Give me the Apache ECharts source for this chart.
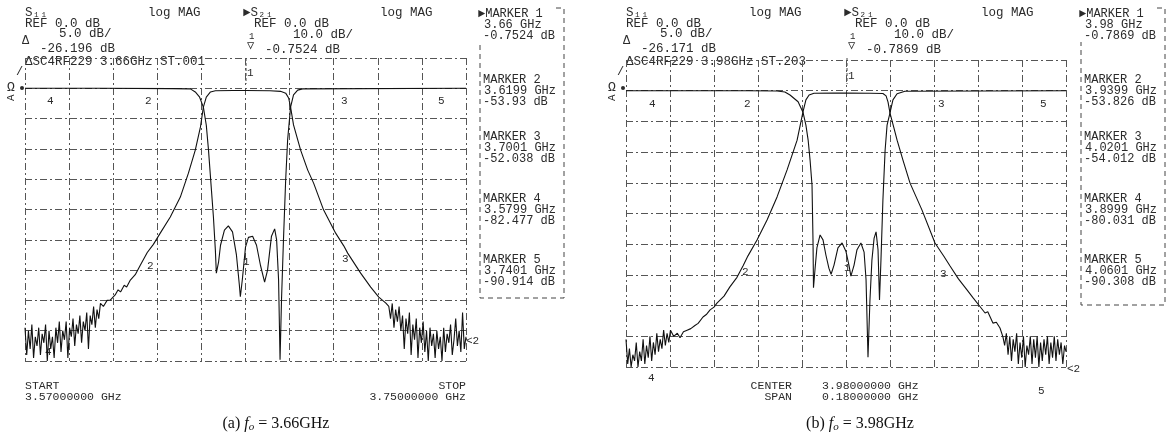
<!DOCTYPE html>
<html><head><meta charset="utf-8">
<script src="https://cdn.jsdelivr.net/npm/echarts@6/dist/echarts.min.js"></script>
<style>html,body{margin:0;padding:0;background:#fff}#c{width:1171px;height:441px}</style>
</head><body><div id="c"></div>
<script>
// ---- sweep ranges (GHz) and scales (dB) ----
const sweepA = [3.57, 3.75];
const sweepB = [3.89, 4.07];
const s21Scale = [-90, 10, 10];   // min, max, dB/div
const s11Scale = [-45, 5, 5];

// ---- traces: [GHz, dB] ----
const s21A = [
[3.5700,-79],[3.5707,-88],[3.5714,-80],[3.5721,-86],[3.5728,-78],[3.5735,-89],[3.5742,-82],[3.5749,-85],[3.5756,-79],[3.5763,-88],
[3.5770,-81],[3.5777,-84],[3.5784,-78],[3.5791,-90],[3.5798,-80],[3.5805,-86],[3.5812,-82],[3.5819,-89],[3.5826,-79],[3.5833,-84],
[3.5840,-77],[3.5847,-87],[3.5854,-80],[3.5861,-83],[3.5868,-77],[3.5875,-89],[3.5882,-79],[3.5889,-82],[3.5896,-76],[3.5903,-85],
[3.5910,-78],[3.5917,-81],[3.5924,-75],[3.5931,-84],[3.5938,-77],[3.5945,-80],[3.5952,-74],[3.5959,-86],[3.5966,-75],[3.5973,-78],
[3.5980,-72],[3.5987,-79],[3.5994,-73],[3.6001,-76],[3.6008,-71],
[3.6020,-72],[3.6035,-70],[3.6048,-69.9],[3.6068,-68.2],[3.6080,-66.5],[3.6090,-67.2],[3.6105,-65.0],[3.6115,-65.6],[3.6130,-63.3],
[3.6150,-61.5],[3.6170,-58.5],[3.6199,-54.2],[3.6224,-51.5],[3.6252,-47.8],[3.6293,-42.5],[3.6334,-35.9],[3.6367,-28.0],[3.6395,-20.4],
[3.6416,-12.8],[3.6428,-6.2],[3.6440,-2.9],[3.6457,-1.2],[3.6477,-0.8],[3.6550,-0.75],[3.6600,-0.75],[3.6700,-0.8],[3.6743,-1.0],
[3.6764,-1.6],[3.6776,-3.2],[3.6784,-6.2],[3.6796,-12.1],[3.6825,-20.4],[3.6854,-27.0],[3.6878,-31.3],[3.6919,-40.2],[3.6968,-47.8],
[3.7001,-52.0],[3.7017,-54.4],[3.7070,-61.0],[3.7111,-65.6],[3.7144,-68.9],[3.7173,-70.9],
[3.7185,-72],[3.7192,-76],[3.7199,-71],[3.7206,-79],[3.7213,-73],[3.7220,-77],[3.7227,-72],[3.7234,-80],[3.7241,-75],[3.7248,-86],
[3.7255,-76],[3.7262,-81],[3.7269,-74],[3.7276,-88],[3.7283,-78],[3.7290,-83],[3.7297,-76],[3.7304,-89],[3.7311,-79],[3.7318,-84],
[3.7325,-77],[3.7332,-87],[3.7339,-80],[3.7346,-90],[3.7353,-79],[3.7360,-85],[3.7367,-81],[3.7374,-89],[3.7381,-80],[3.7388,-86],
[3.7395,-82],[3.7402,-90],[3.7409,-79],[3.7416,-87],[3.7423,-81],[3.7430,-84],[3.7437,-78],[3.7444,-88],[3.7451,-83],[3.7458,-76],
[3.7465,-85],[3.7472,-80],[3.7479,-87],[3.7486,-74],[3.7493,-86],[3.7500,-82]
];
const s11A = [
[3.5700,0],[3.6000,0],[3.6300,-0.05],[3.6375,-0.1],[3.6395,-0.6],[3.6412,-1.4],[3.6428,-3.1],[3.6440,-6.1],[3.6449,-10.2],
[3.6461,-16.8],[3.6469,-21.2],[3.6477,-26.7],[3.6481,-30.5],[3.6490,-28.7],[3.6498,-25.9],[3.6514,-23.4],[3.6530,-22.7],
[3.6547,-23.7],[3.6563,-27.5],[3.6575,-32.5],[3.6579,-34.4],[3.6587,-31.6],[3.6600,-26.2],[3.6612,-24.6],[3.6629,-24.4],
[3.6645,-25.9],[3.6661,-29.2],[3.6678,-32.0],[3.6690,-30.0],[3.6706,-24.4],[3.6719,-23.2],[3.6727,-25.0],[3.6735,-31.6],
[3.6741,-44.8],[3.6747,-34.9],[3.6755,-25.0],[3.6764,-15.1],[3.6772,-8.5],[3.6784,-3.1],[3.6796,-1.1],[3.6813,-0.3],
[3.6833,-0.1],[3.7500,0]
];
const s21B = [
[3.8900,-81],[3.8907,-89],[3.8914,-84],[3.8921,-90],[3.8928,-86],[3.8935,-88],[3.8942,-82],[3.8949,-90],[3.8956,-85],[3.8963,-88],
[3.8970,-81],[3.8977,-89],[3.8984,-83],[3.8991,-87],[3.8998,-80],[3.9005,-88],[3.9012,-82],[3.9019,-86],[3.9026,-79],[3.9033,-85],
[3.9040,-81],[3.9047,-84],[3.9054,-78],[3.9061,-83],[3.9068,-79],[3.9075,-82],[3.9082,-78],
[3.9095,-80],[3.9110,-79],[3.9121,-80.5],[3.9135,-78.5],[3.9150,-78.0],[3.9165,-77.5],[3.9182,-76.5],[3.9195,-75.8],[3.9215,-73.7],
[3.9230,-72.8],[3.9244,-71.4],[3.9260,-70.5],[3.9272,-69.2],[3.9301,-66.9],[3.9325,-63.9],[3.9354,-60.8],[3.9379,-57.0],[3.9399,-53.8],
[3.9436,-48.6],[3.9477,-42.1],[3.9518,-34.6],[3.9559,-25.8],[3.9600,-16.1],[3.9624,-6.9],[3.9636,-3.0],[3.9649,-1.4],[3.9669,-0.85],
[3.9750,-0.79],[3.9800,-0.79],[3.9900,-0.82],[3.9951,-0.9],[3.9964,-1.7],[3.9972,-3.7],[3.9980,-7.3],[3.9996,-12.1],[4.0009,-16.1],
[4.0033,-22.6],[4.0062,-30.1],[4.0111,-38.9],[4.0164,-49.6],[4.0201,-54.0],[4.0225,-57.0],[4.0260,-61.3],[4.0295,-64.9],[4.0320,-67.5],
[4.0348,-70.3],[4.0369,-72.4],[4.0380,-72.0],[4.0401,-75.7],[4.0415,-75.4],[4.0430,-77.3],[4.0442,-80.2],
[4.0449,-83],[4.0456,-79],[4.0463,-86],[4.0470,-80],[4.0477,-88],[4.0484,-81],[4.0491,-85],[4.0498,-79],[4.0505,-89],[4.0512,-82],
[4.0519,-87],[4.0526,-80],[4.0533,-90],[4.0540,-83],[4.0547,-86],[4.0554,-80],[4.0561,-89],[4.0568,-81],[4.0575,-87],[4.0582,-80],
[4.0589,-90],[4.0596,-82],[4.0603,-88],[4.0610,-81],[4.0617,-86],[4.0624,-80],[4.0631,-89],[4.0638,-82],[4.0645,-87],[4.0652,-80],
[4.0659,-88],[4.0666,-81],[4.0673,-86],[4.0680,-82],[4.0687,-89],[4.0694,-83],[4.0700,-85]
];
const s11B = [
[3.8900,0],[3.9400,0],[3.9518,-0.05],[3.9550,-0.2],[3.9571,-0.7],[3.9604,-1.8],[3.9624,-3.5],[3.9636,-5.6],[3.9645,-8.0],
[3.9653,-11.3],[3.9661,-15.4],[3.9665,-24.3],[3.9667,-32.1],[3.9673,-29.2],[3.9681,-25.6],[3.9694,-23.5],[3.9706,-24.3],
[3.9718,-26.8],[3.9730,-28.9],[3.9739,-29.9],[3.9751,-28.4],[3.9767,-25.6],[3.9784,-24.8],[3.9800,-26.2],[3.9812,-28.4],
[3.9820,-30.2],[3.9833,-28.4],[3.9845,-25.9],[3.9861,-24.8],[3.9874,-26.3],[3.9882,-30.8],[3.9890,-43.4],[3.9898,-34.1],
[3.9906,-27.6],[3.9915,-24.0],[3.9923,-23.0],[3.9931,-25.9],[3.9937,-34.1],[3.9943,-27.6],[3.9951,-17.8],[3.9960,-9.7],
[3.9968,-5.6],[3.9980,-3.6],[3.9992,-1.5],[4.0009,-0.5],[4.0041,-0.1],[4.0700,0]
];

// ---- texts ----
const markerTextA = [['3.66 GHz','-0.7524 dB'],['3.6199 GHz','-53.93 dB'],['3.7001 GHz','-52.038 dB'],['3.5799 GHz','-82.477 dB'],['3.7401 GHz','-90.914 dB']];
const markerTextB = [['3.98 GHz','-0.7869 dB'],['3.9399 GHz','-53.826 dB'],['4.0201 GHz','-54.012 dB'],['3.8999 GHz','-80.031 dB'],['4.0601 GHz','-90.308 dB']];
const headA = {s11ref:'-26.196 dB', s21ref:'-0.7524 dB', title:'ΔSC4RF229 3.66GHz ST.001',
  bottomL:['START','3.57000000 GHz'], bottomR:['STOP','3.75000000 GHz'], caption:['(a) ','3.66GHz']};
const headB = {s11ref:'-26.171 dB', s21ref:'-0.7869 dB', title:'ΔSC4RF229 3.98GHz ST.203',
  center:['CENTER','3.98000000 GHz'], span:['SPAN','0.18000000 GHz'], caption:['(b) ','3.98GHz']};

const INK = '#2b2b2b';
const MONO = '"Liberation Mono","DejaVu Sans Mono",monospace';
function T(x, y, text, size, opts) {
  return Object.assign({type:'text', x:x, y:y, silent:true,
    style: Object.assign({text:text, font: (size||12)+'px '+MONO, fill:INK, textVerticalAlign:'middle'}, (opts&&opts.style)||{})},
    opts && opts.rotation!==undefined ? {rotation:opts.rotation} : {});
}
function dashedPoly(points) {
  return {type:'polyline', silent:true, shape:{points:points}, style:{stroke:'#444', lineWidth:1, lineDash:[5,4], fill:null}};
}

const g = [];
function header(ox, h, markers, boxBottom) {
  g.push(T(ox+0, 13, 'S₁₁', 12.5));
  g.push(T(ox+0, 24, 'REF 0.0 dB', 12.5));
  g.push(T(ox+34, 34, '5.0 dB/', 12.5));
  g.push(T(ox-3, 41, 'Δ', 12));
  g.push(T(ox+15, 49, h.s11ref, 12.5));
  g.push(T(ox+0, 62, h.title, 12.5));
  g.push(T(ox+123, 13, 'log MAG', 12.5));
  g.push(T(ox+218, 13, '►S₂₁', 12.5));
  g.push(T(ox+229, 24, 'REF 0.0 dB', 12.5));
  g.push(T(ox+268, 35, '10.0 dB/', 12.5));
  g.push(T(ox+224, 37, '1', 9));
  g.push(T(ox+222, 46, '▽', 12));
  g.push(T(ox+240, 50, h.s21ref, 12.5));
  g.push(T(ox+355, 13, 'log MAG', 12.5));
  // marker list
  const mx = ox + 458;
  const ys = [14, 80, 137, 199, 260];
  markers.forEach((m, i) => {
    g.push(T(mx + (i===0?-5:0), ys[i], (i===0?'►':'')+'MARKER '+(i+1), 12));
    g.push(T(mx+1, ys[i]+11, m[0], 12));
    g.push(T(mx, ys[i]+22, m[1], 12));
  });
  g.push(dashedPoly([[ox+531,8],[ox+539,8],[ox+539,boxBottom],[ox+455,boxBottom],[ox+455,42]]));
  // marker-1 pointer from the top border
  g.push({type:'line', silent:true, shape:{x1:ox+221, y1:58, x2:ox+221, y2:84}, style:{stroke:'#444', lineWidth:1, lineDash:[3,2]}});
  // reference indicators on the left
  g.push(T(ox-18, 88, 'Ω', 13));
  g.push(T(ox-9, 72, '/', 12));
  g.push({type:'circle', silent:true, shape:{cx:ox-3, cy:88, r:2}, style:{fill:INK}});
  g.push(T(ox-14, 101, 'A', 11, {rotation: Math.PI/2}));
}
header(25, headA, markerTextA, 298);
header(626, headB, markerTextB, 305);

// marker labels (a)
[[50,101,'4'],[148,101,'2'],[344,101,'3'],[441,101,'5'],[250,73,'1'],[150,266,'2'],[345,259,'3'],[246,262,'1'],[48,352,'4'],[469,341,'<2']]
  .forEach(d => g.push(T(d[0]-3, d[1], d[2], 11)));
// marker labels (b)
[[652,104,'4'],[747,104,'2'],[941,104,'3'],[1043,104,'5'],[851,76,'1'],[745,272,'2'],[943,274,'3'],[847,268,'1'],[651,378,'4'],[1041,391,'5'],[1070,369,'<2']]
  .forEach(d => g.push(T(d[0]-3, d[1], d[2], 11)));

// bottom texts
g.push(T(25, 386, headA.bottomL[0], 11.5));
g.push(T(25, 397, headA.bottomL[1], 11.5));
g.push(T(466, 386, headA.bottomR[0], 11.5, {style:{textAlign:'right'}}));
g.push(T(466, 397, headA.bottomR[1], 11.5, {style:{textAlign:'right'}}));
g.push(T(792, 386, headB.center[0], 11.5, {style:{textAlign:'right'}}));
g.push(T(822, 386, headB.center[1], 11.5));
g.push(T(792, 397, headB.span[0], 11.5, {style:{textAlign:'right'}}));
g.push(T(822, 397, headB.span[1], 11.5));

function caption(cx, c) {
  g.push({type:'text', x:cx, y:424, silent:true, style:{
    text: c[0]+'{i|f}{s|o} = '+c[1], textAlign:'center', textVerticalAlign:'middle',
    font:'16px "Liberation Serif","DejaVu Serif",serif', fill:'#111',
    rich:{ i:{fontStyle:'italic', fontSize:16, fontFamily:'Liberation Serif'},
           s:{fontStyle:'italic', fontSize:11, fontFamily:'Liberation Serif', padding:[7,0,0,0]} }
  }});
}
caption(276, headA.caption);
caption(860, headB.caption);

const gridLine = {show:true, lineStyle:{color:'#555', width:1, type:[7,3,2,3]}};
function xAx(gi, r) {
  return {type:'value', gridIndex:gi, min:r[0], max:r[1], interval:0.018,
    axisLine:{show:false}, axisTick:{show:false}, axisLabel:{show:false}, splitLine:gridLine};
}
function yAx(gi, sc, show) {
  return {type:'value', gridIndex:gi, min:sc[0], max:sc[1], interval:sc[2],
    axisLine:{show:false}, axisTick:{show:false}, axisLabel:{show:false},
    splitLine: show ? gridLine : {show:false}};
}
function tr(data, xi, yi) {
  return {type:'line', data:data, xAxisIndex:xi, yAxisIndex:yi, showSymbol:false, symbol:'none',
    lineStyle:{color:'#111', width:1.1}, animation:false, z:3};
}

const chart = echarts.init(document.getElementById('c'), null, {renderer:'canvas'});
chart.setOption({
  backgroundColor:'#fff',
  animation:false,
  grid:[{left:25, top:58, width:441, height:303}, {left:626, top:60, width:440, height:307}],
  xAxis:[xAx(0, sweepA), xAx(1, sweepB)],
  yAxis:[yAx(0, s21Scale, true), yAx(0, s11Scale, false), yAx(1, s21Scale, true), yAx(1, s11Scale, false)],
  series:[tr(s21A,0,0), tr(s11A,0,1), tr(s21B,1,2), tr(s11B,1,3)],
  graphic: g
});
</script></body></html>
